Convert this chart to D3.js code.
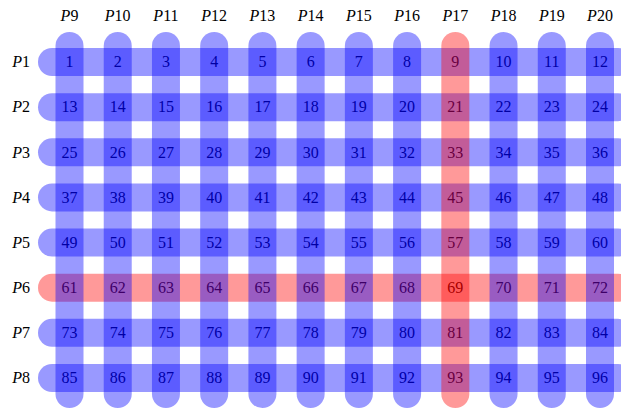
<!DOCTYPE html>
<html><head><meta charset="utf-8">
<script src="https://cdn.jsdelivr.net/npm/d3@7"></script>
<style>body{margin:0;background:#fff}svg{display:block}</style>
</head><body>
<script>
const rows = ["P1","P2","P3","P4","P5","P6","P7","P8"];
const cols = ["P9","P10","P11","P12","P13","P14","P15","P16","P17","P18","P19","P20"];
const highlightRows = ["P6"];
const highlightCols = ["P17"];
const cellValues = d3.range(1, 97); // cell labels 1..96 row-major

const W = 621, H = 409;
const svg = d3.select("body").append("svg").attr("width", W).attr("height", H);
const x = d3.scalePoint().domain(cols).range([69.5, 600]);
const y = d3.scalePoint().domain(rows).range([62, 378]);
const font = "'Liberation Serif','Times New Roman',serif";

// cell numbers (underneath translucent bars)
const cells = [];
rows.forEach((r, i) => cols.forEach((c, j) => cells.push({r, c, v: cellValues[i * cols.length + j]})));
svg.append("g").selectAll("text").data(cells).join("text")
  .attr("x", d => x(d.c)).attr("y", d => y(d.r)).attr("dy", "0.33em")
  .attr("text-anchor", "middle").attr("font-family", font).attr("font-size", 16)
  .attr("fill", "#000").text(d => d.v);

const blue = "rgba(0,0,255,0.4)", red = "rgba(255,0,0,0.4)";
const sw = 28;
// horizontal bars
svg.append("g").selectAll("line").data(rows).join("line")
  .attr("x1", x(cols[0]) - 17.5).attr("x2", x(cols[cols.length - 1]) + 18)
  .attr("y1", d => y(d)).attr("y2", d => y(d))
  .attr("stroke", d => highlightRows.includes(d) ? red : blue)
  .attr("stroke-width", sw).attr("stroke-linecap", "round");
// vertical bars
svg.append("g").selectAll("line").data(cols).join("line")
  .attr("x1", d => x(d)).attr("x2", d => x(d))
  .attr("y1", y(rows[0]) - 16).attr("y2", y(rows[rows.length - 1]) + 16)
  .attr("stroke", d => highlightCols.includes(d) ? red : blue)
  .attr("stroke-width", sw).attr("stroke-linecap", "round");

function label(sel) {
  sel.append("tspan").attr("font-style", "italic").text(d => d[0]);
  sel.append("tspan").text(d => d.slice(1));
}
svg.append("g").selectAll("text").data(cols).join("text")
  .attr("x", d => x(d)).attr("y", 21).attr("text-anchor", "middle")
  .attr("font-family", font).attr("font-size", 16).attr("fill", "#000").call(label);
svg.append("g").selectAll("text").data(rows).join("text")
  .attr("x", 30).attr("y", d => y(d)).attr("dy", "0.33em").attr("text-anchor", "end")
  .attr("font-family", font).attr("font-size", 16).attr("fill", "#000").call(label);
</script>
</body></html>
